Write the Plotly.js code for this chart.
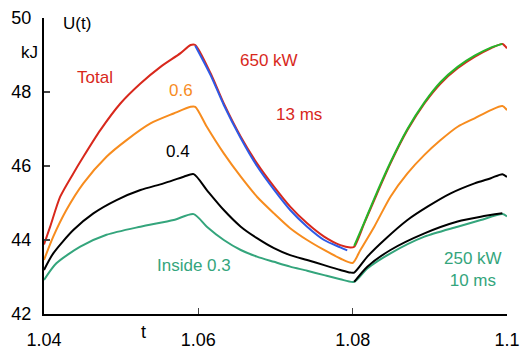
<!DOCTYPE html>
<html>
<head>
<meta charset="utf-8">
<script src="https://cdn.plot.ly/plotly-3.0.1.min.js"></script>
<style>html,body{margin:0;padding:0;background:#fff;}#chart{width:520px;height:349px;}</style>
</head>
<body>
<div id="chart"></div>
<script>
// Total (650 kW, 13 ms)
var tTotal = [1.04, 1.0408, 1.0421, 1.0438, 1.0451, 1.0473, 1.0499, 1.0525, 1.0551, 1.0577, 1.0590, 1.0596, 1.0616, 1.0633, 1.0655, 1.0676, 1.0698, 1.0719, 1.0741, 1.0763, 1.0784, 1.0797, 1.0802, 1.0815, 1.0828, 1.0849, 1.0871, 1.0893, 1.0914, 1.0936, 1.0958, 1.0979, 1.0994, 1.1];
var uTotal = [43.88, 44.36, 45.17, 45.8, 46.25, 46.97, 47.69, 48.23, 48.68, 49.05, 49.27, 49.27, 48.5, 47.69, 46.79, 46.07, 45.44, 44.9, 44.45, 44.09, 43.86, 43.8, 43.82, 44.45, 45.08, 46.07, 46.97, 47.69, 48.23, 48.64, 48.95, 49.18, 49.3, 49.18];
// fit curves on Total
var tDecayFit = [1.0596, 1.0616, 1.0633, 1.0655, 1.0676, 1.0698, 1.0719, 1.0741, 1.0763, 1.0784, 1.0793];
var uDecayFit = [49.25, 48.45, 47.65, 46.75, 46.0, 45.36, 44.81, 44.36, 44.0, 43.8, 43.72];
var tRiseFit = [1.0802, 1.0815, 1.0828, 1.0849, 1.0871, 1.0893, 1.0914, 1.0936, 1.0958, 1.0979, 1.0994];
var uRiseFit = [43.84, 44.47, 45.12, 46.1, 47.0, 47.72, 48.27, 48.68, 48.98, 49.2, 49.3];
// 0.6
var t06 = [1.04, 1.0412, 1.0429, 1.0451, 1.0481, 1.0507, 1.0538, 1.0568, 1.0590, 1.0596, 1.0611, 1.0633, 1.0655, 1.0676, 1.0698, 1.0719, 1.0741, 1.0763, 1.0784, 1.0800, 1.0810, 1.0828, 1.0849, 1.0871, 1.0893, 1.0914, 1.0936, 1.0958, 1.0979, 1.0994, 1.1];
var u06 = [43.46, 44.09, 44.81, 45.53, 46.25, 46.7, 47.15, 47.42, 47.6, 47.6, 47.06, 46.34, 45.71, 45.17, 44.72, 44.32, 44.0, 43.73, 43.5, 43.38, 43.73, 44.36, 45.17, 45.8, 46.3, 46.7, 47.06, 47.29, 47.51, 47.62, 47.51];
// 0.4
var t04 = [1.04, 1.0412, 1.0438, 1.0464, 1.0494, 1.0525, 1.0555, 1.0581, 1.0594, 1.0611, 1.0633, 1.0655, 1.0676, 1.0698, 1.0719, 1.0741, 1.0763, 1.0784, 1.0797, 1.0802, 1.0819, 1.0841, 1.0871, 1.0897, 1.0927, 1.0958, 1.0979, 1.0994, 1.1];
var u04 = [43.19, 43.64, 44.27, 44.72, 45.08, 45.35, 45.53, 45.71, 45.78, 45.35, 44.81, 44.36, 44.05, 43.78, 43.59, 43.46, 43.32, 43.19, 43.12, 43.12, 43.55, 44.0, 44.54, 44.9, 45.26, 45.53, 45.67, 45.78, 45.7];
// Inside 0.3 (250 kW, 10 ms)
var tIn = [1.04, 1.0416, 1.0447, 1.0481, 1.0525, 1.0568, 1.0594, 1.0611, 1.0633, 1.0655, 1.0676, 1.0698, 1.0719, 1.0741, 1.0763, 1.0784, 1.0802, 1.0819, 1.0849, 1.0893, 1.0936, 1.0966, 1.0994, 1.1];
var uIn = [42.92, 43.37, 43.82, 44.14, 44.36, 44.54, 44.7, 44.36, 44.0, 43.73, 43.55, 43.41, 43.28, 43.17, 43.05, 42.94, 42.87, 43.23, 43.64, 44.09, 44.36, 44.54, 44.7, 44.64];
var tInFit = [1.0802, 1.0819, 1.0849, 1.0893, 1.0936, 1.0966, 1.0994];
var uInFit = [42.87, 43.28, 43.73, 44.18, 44.5, 44.63, 44.72];

var xTicks = [1.04, 1.06, 1.08, 1.1];
var xTickText = ['1.04', '1.06', '1.08', '1.1'];
var yTicks = [42, 44, 46, 48, 50];
var yTickText = ['42', '44', '46', '48', '50'];

var RED = '#d8281c', ORANGE = '#f78c1e', TEAL = '#34a57c', BLUE = '#2f5ae6', GREEN = '#26b52a';
function ln(x, y, c, w) { return {x: x, y: y, mode: 'lines', line: {color: c, width: w || 2, shape: 'spline', smoothing: 0.7}, hoverinfo: 'skip'}; }

var traces = [
  ln(tIn, uIn, TEAL),
  ln(tInFit, uInFit, '#000000'),
  ln(t04, u04, '#000000'),
  ln(t06, u06, ORANGE),
  ln(tTotal, uTotal, RED),
  ln(tDecayFit, uDecayFit, BLUE),
  ln(tRiseFit, uRiseFit, GREEN)
];

var F = 'Liberation Sans, Arial, Helvetica, sans-serif';
function ann(x, y, text, color, extra) {
  var a = {x: x, y: y, xref: 'x', yref: 'y', text: text, showarrow: false, font: {family: F, size: 17, color: color}};
  for (var k in extra) a[k] = extra[k];
  return a;
}

var layout = {
  width: 520, height: 349,
  margin: {l: 44, r: 13, t: 18, b: 35},
  paper_bgcolor: '#fff', plot_bgcolor: '#fff',
  showlegend: false,
  font: {family: F, size: 18, color: '#000'},
  xaxis: {range: [1.04, 1.1], tickvals: xTicks, ticktext: xTickText, ticks: 'inside', ticklen: 6, tickwidth: 1.5,
          showline: true, linecolor: '#000', linewidth: 2, showgrid: false, zeroline: false, tickfont: {size: 18}, ticklabelstandoff: 8},
  yaxis: {range: [42, 50], tickvals: yTicks, ticktext: yTickText, ticks: 'inside', ticklen: 6, tickwidth: 1.5,
          showline: true, linecolor: '#000', linewidth: 2, showgrid: false, zeroline: false, tickfont: {size: 18}, ticklabelstandoff: 7},
  annotations: [
    ann(1.0466, 48.38, 'Total', RED),
    ann(1.0578, 48.05, '0.6', ORANGE),
    ann(1.0574, 46.38, '0.4', '#000'),
    ann(1.0691, 48.84, '650 kW', RED),
    ann(1.0730, 47.38, '13 ms', RED),
    ann(1.0595, 43.30, 'Inside 0.3', TEAL),
    ann(1.0956, 43.19, '250 kW<br>10 ms', TEAL, {bgcolor: 'rgba(255,255,255,0.85)'}),
    ann(1.0443, 49.84, 'U(t)', '#000'),
    {x: -0.054, y: 49.08, xref: 'paper', yref: 'y', text: 'kJ', showarrow: false, font: {family: F, size: 17, color: '#000'}},
    {x: 1.0529, y: -0.02, xref: 'x', yref: 'paper', yanchor: 'top', text: 't', showarrow: false, font: {family: F, size: 18, color: '#000'}}
  ]
};

Plotly.newPlot('chart', traces, layout, {staticPlot: true, displayModeBar: false});
</script>
</body>
</html>
